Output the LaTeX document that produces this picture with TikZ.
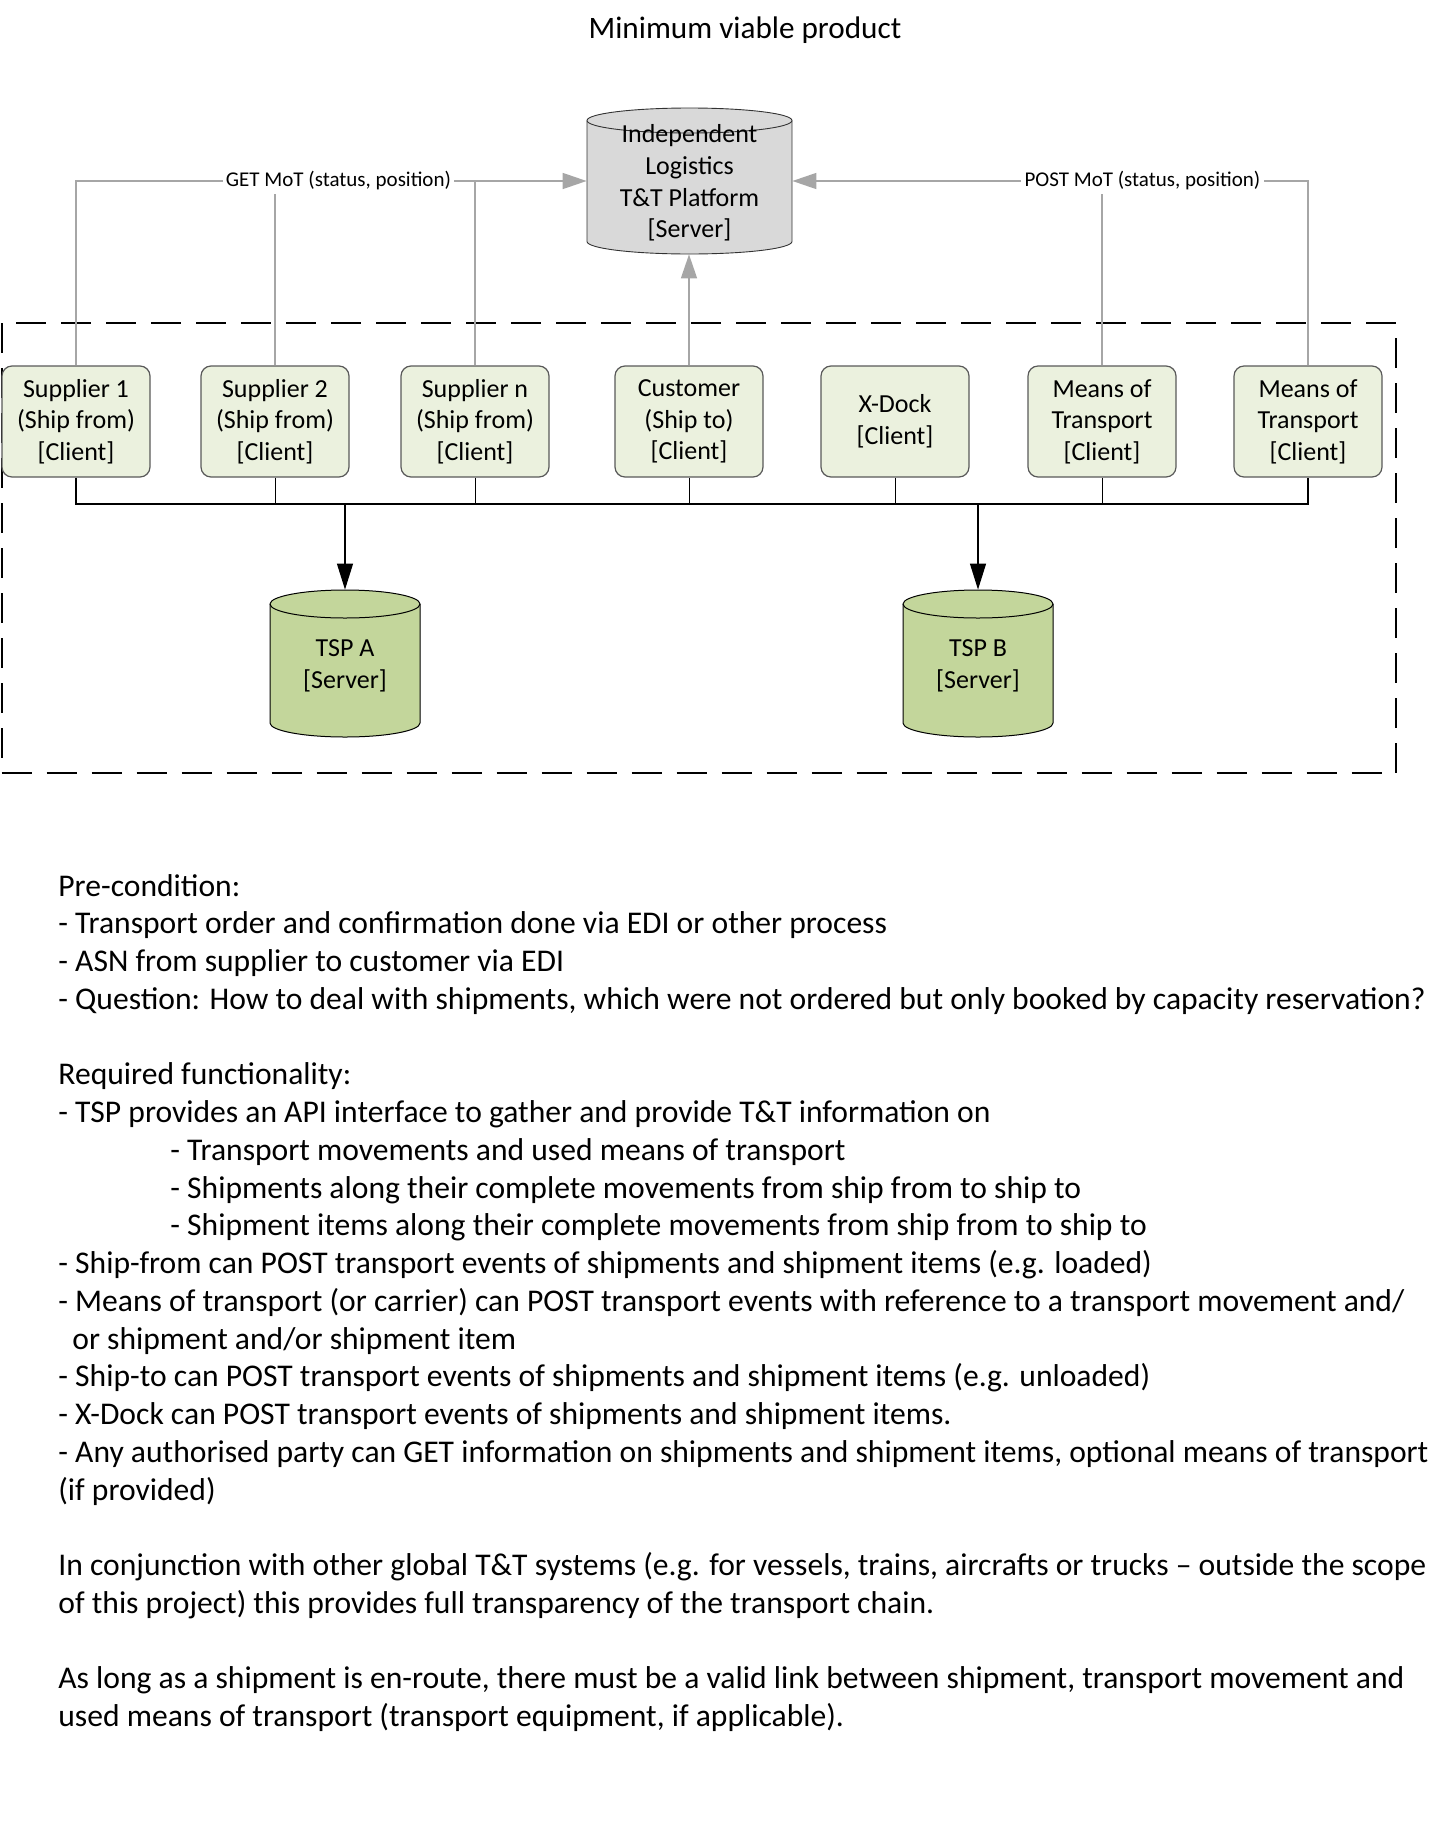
\documentclass[tikz,border=0pt]{standalone}
\usepackage{fontspec}
\setmainfont{Carlito}
\usetikzlibrary{arrows.meta,calc}
\definecolor{clientfill}{HTML}{EBF1DE}
\definecolor{tspfill}{HTML}{C3D69B}
\definecolor{platfill}{HTML}{D9D9D9}
\definecolor{linegray}{HTML}{A6A6A6}
\newcommand\boxfont{\fontsize{13pt}{15.8pt}\selectfont}
\newcommand\lblfont{\fontsize{10.5pt}{12.6pt}\selectfont}
\newcommand\bodyfont{\fontsize{15.8pt}{18.9pt}\selectfont}
\newcommand\titlefont{\fontsize{15.6pt}{18.8pt}\selectfont}
% cx, top, bottom, half width, ry, fill, draw style  (all in px units)
\newcommand\drawcyl[7]{%
  \path[fill=#6,#7] (#1-#4,#2+#5) -- (#1-#4,#3-#5)
     arc[start angle=180,end angle=360,x radius=#4*0.5pt,y radius=#5*0.5pt]
     -- (#1+#4,#2+#5)
     arc[start angle=0,end angle=180,x radius=#4*0.5pt,y radius=#5*0.5pt] -- cycle;
  \path[#7] (#1-#4,#2+#5)
     arc[start angle=180,end angle=360,x radius=#4*0.5pt,y radius=#5*0.5pt];
}
\tikzset{
  client/.style={draw=black!65, line width=0.6pt, fill=clientfill, rounded corners=5pt,
     minimum width=74pt, minimum height=55.5pt, align=center, font=\boxfont, inner sep=0pt},
  cyltext/.style={inner sep=0pt, align=center, font=\boxfont},
  lbl/.style={font=\lblfont, inner sep=1.5pt},
  gline/.style={draw=linegray, line width=0.55pt},
  garrow/.style={draw=linegray, line width=0.8pt, -{Triangle[length=12pt,width=8pt]}},
  busline/.style={draw=black, line width=0.8pt},
  dropline/.style={draw=black, line width=0.5pt},
  tarrow/.style={draw=black, line width=0.6pt, -{Triangle[length=13pt,width=8pt]}},
  bodyline/.style={font=\bodyfont, inner sep=0pt, anchor=base west},
}
\begin{document}
\begin{tikzpicture}[x=0.5pt, y=-0.5pt]
\useasboundingbox (0,0) rectangle (1452,1826);

% title
\node[font=\titlefont, inner sep=0pt] (title) at (745,30.5) {Minimum viable product};

% dashed frame
\draw[line width=1pt, dash pattern=on 15pt off 7.5pt] (1.5,323) rectangle (1396,773);

% cylinders
\drawcyl{689.5}{108}{254}{102.5}{12.5}{platfill}{draw=black!80, line width=0.45pt}
\drawcyl{345}{590}{737}{75}{14}{tspfill}{draw=black, line width=0.5pt}
\drawcyl{978}{590}{737}{75}{14}{tspfill}{draw=black, line width=0.5pt}

\node[cyltext, minimum width=102.5pt, minimum height=71pt] (plat) at (689.5,183)
   {Independent\\Logistics\\T\&T Platform\\{[Server]}};
\node[cyltext, minimum width=75pt, minimum height=76pt] (ta) at (345,666) {TSP A\\{[Server]}};
\node[cyltext, minimum width=75pt, minimum height=76pt] (tb) at (978,666) {TSP B\\{[Server]}};

% clients
\node[client] (s1) at (76,421.5)   {Supplier 1\\(Ship from)\\{[Client]}};
\node[client] (s2) at (275,421.5)  {Supplier 2\\(Ship from)\\{[Client]}};
\node[client] (sn) at (475,421.5)  {Supplier n\\(Ship from)\\{[Client]}};
\node[client] (cu) at (689,421.5)  {Customer\\(Ship to)\\{[Client]}};
\node[client] (xd) at (895,421.5)  {X-Dock\\{[Client]}};
\node[client] (m1) at (1102,421.5) {Means of\\Transport\\{[Client]}};
\node[client] (m2) at (1308,421.5) {Means of\\Transport\\{[Client]}};

% labels
\node[lbl] (get) at (338.5,181) {GET MoT (status, position)};
\node[lbl] (post) at (1142.5,181) {POST MoT (status, position)};

% gray connectors to platform
\draw[gline] (s1.north) |- (get.west);
\draw[gline] (s2.north) -- (s2.north |- get.south);
\draw[gline] (sn.north) -- (sn.north |- get.east);
\draw[garrow] (get.east) -- (get.east -| plat.west);
\draw[garrow] (cu.north) -- (cu.north |- plat.south);
\draw[gline] (m2.north) |- (post.east);
\draw[gline] (m1.north) -- (m1.north |- post.south);
\draw[garrow] (post.west) -- (post.west -| plat.east);

% bus to TSPs
\coordinate (bus) at (0,504);
\draw[busline] (s1.south) -- (s1.south |- bus) -- (m2.south |- bus) -- (m2.south);
\foreach \n in {s2,sn,cu,xd,m1} \draw[dropline] (\n.south) -- (\n.south |- bus);
\draw[draw=black, line width=1.2pt] (ta.north |- bus) -- (tb.north |- bus);
\draw[tarrow] (ta.north |- bus) -- (ta.north);
\draw[tarrow] (tb.north |- bus) -- (tb.north);

% body text
\foreach \i/\xx/\txt in {
 0/58/{Pre-condition:},
 1/58/{- Transport order and confirmation done via EDI or other process},
 2/58/{- ASN from supplier to customer via EDI},
 3/58/{- Question: How to deal with shipments, which were not ordered but only booked by capacity reservation?},
 5/58/{Required functionality:},
 6/58/{- TSP provides an API interface to gather and provide T\&T information on},
 7/170/{- Transport movements and used means of transport},
 8/170/{- Shipments along their complete movements from ship from to ship to},
 9/170/{- Shipment items along their complete movements from ship from to ship to},
 10/58/{- Ship-from can POST transport events of shipments and shipment items (e.g. loaded)},
 11/58/{- Means of transport (or carrier) can POST transport events with reference to a transport movement and/},
 12/72/{or shipment and/or shipment item},
 13/58/{- Ship-to can POST transport events of shipments and shipment items (e.g. unloaded)},
 14/58/{- X-Dock can POST transport events of shipments and shipment items.},
 15/58/{- Any authorised party can GET information on shipments and shipment items, optional means of transport},
 16/58/{(if provided)},
 18/58/{In conjunction with other global T\&T systems (e.g. for vessels, trains, aircrafts or trucks – outside the scope},
 19/58/{of this project) this provides full transparency of the transport chain.},
 21/58/{As long as a shipment is en-route, there must be a valid link between shipment, transport movement and},
 22/58/{used means of transport (transport equipment, if applicable).}}
 \node[bodyline] (line\i) at (\xx,896+37.75*\i) {\txt};
\end{tikzpicture}
\end{document}
